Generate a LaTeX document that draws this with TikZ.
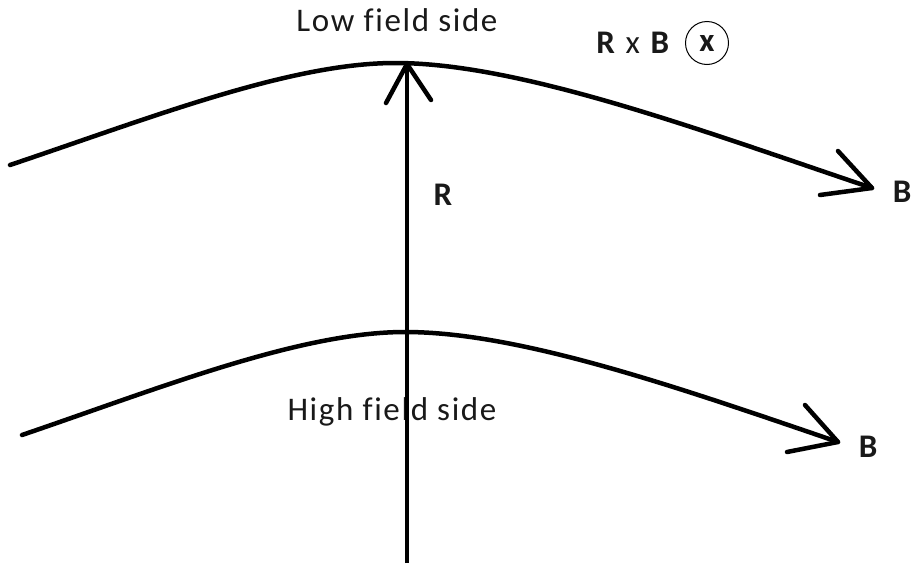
\documentclass[tikz,border=0pt]{standalone}
\usepackage{fontspec}
\setmainfont{Carlito}[LetterSpace=5,Ligatures=NoCommon]
\begin{document}
\begin{tikzpicture}[x=1pt,y=-1pt,
  stroke/.style={line width=4.5pt,line cap=round,line join=round},
  lbl/.style={font=\fontsize{33}{33}\selectfont,text=black!90,inner sep=0pt},
  blbl/.style={lbl,font=\fontsize{33}{33}\selectfont\bfseries}]
\useasboundingbox (0,0) rectangle (914,565);
% upper field line
\coordinate (u0) at (10,165);
\coordinate (upk) at (395,63);
\coordinate (utip) at (872,188);
\coordinate (ub1) at (838,151);
\coordinate (ub2) at (820,195);
\draw[stroke] (u0) .. controls (150,118) and (290,63) .. (upk)
  .. controls (520,63) and (700,130) .. (utip);
\draw[stroke] (ub1) -- (utip) -- (ub2);
% lower field line
\coordinate (l0) at (22,435);
\coordinate (lpk) at (405,332);
\coordinate (ltip) at (838,442);
\coordinate (lb1) at (805,405);
\coordinate (lb2) at (787,452);
\draw[stroke] (l0) .. controls (160,388) and (300,332) .. (lpk)
  .. controls (520,332) and (680,388) .. (ltip);
\draw[stroke] (lb1) -- (ltip) -- (lb2);
% R vector
\coordinate (rb) at (407,563);
\coordinate (rt) at (407,64);
\coordinate (rl) at (386,103);
\coordinate (rr) at (431,100);
\draw[stroke,line cap=butt] (rb) -- (rt);
\draw[stroke] (rl) -- (rt) -- (rr);
% labels
\node[lbl] (low) at (397,20) {Low field side};
\node[lbl] (high) at (392,412) {High field side};
\draw[stroke,line cap=butt] (407,392) -- (407,432);
\node[blbl] (rlab) at (443,195) {R};
\node[blbl] (b1) at (902,192) {B};
\node[blbl] (b2) at (868,447) {B};
\node[lbl,anchor=east] (rxb) at (671,43) {\textbf{R} x \textbf{B}};
\node[draw,circle,line width=1pt,minimum size=43pt,inner sep=0pt,blbl] (cx) at (707,43) {x};
\end{tikzpicture}
\end{document}
